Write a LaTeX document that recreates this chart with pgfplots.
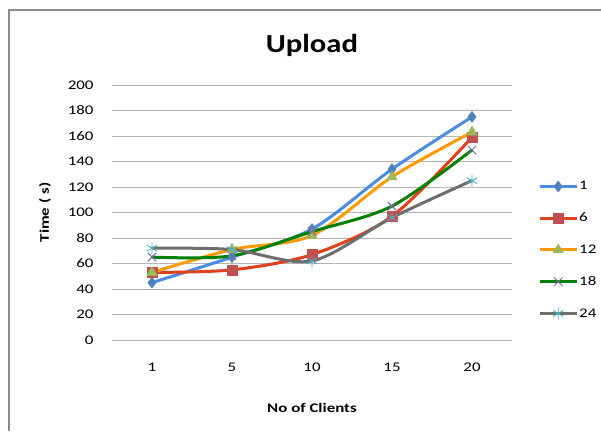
\documentclass[border=0pt]{standalone}
\usepackage{fontspec}
\setmainfont{Carlito}
\usepackage{graphicx}
\usepackage{pgfplots}
\pgfplotsset{compat=1.18}
\definecolor{l1}{RGB}{74,140,226}
\definecolor{m1}{RGB}{79,129,189}
\definecolor{l2}{RGB}{224,64,26}
\definecolor{m2}{RGB}{192,80,77}
\definecolor{l3}{RGB}{255,153,0}
\definecolor{m3}{RGB}{155,187,89}
\definecolor{l4}{RGB}{0,128,0}
\definecolor{m4}{RGB}{128,100,162}
\definecolor{l5}{RGB}{110,110,110}
\definecolor{m5}{RGB}{75,172,198}
\definecolor{gridc}{RGB}{180,180,180}
\newcommand{\nf}{\fontsize{13.2}{15}\selectfont}
\newcommand{\sx}[1]{\scalebox{1.28}[1]{#1}}
\begin{document}
\begin{tikzpicture}
\useasboundingbox (0,0) rectangle (601pt,431pt);
\fill[white] (0,0) rectangle (601pt,431pt);
\draw[black!45, line width=1.5pt] (9pt,0pt) -- (9pt,421pt) -- (601pt,421pt);
\begin{axis}[
  at={(112pt,91pt)}, anchor=south west,
  scale only axis, width=400pt, height=255pt,
  font=\nf,
  tick label style={font=\nf},
  xmin=-0.5, xmax=4.5, ymin=0, ymax=200,
  xtick={0,1,2,3,4}, xticklabels={\sx{1},\sx{5},\sx{10},\sx{15},\sx{20}},
  ytick={0,20,...,200},
  yticklabels={\sx{0},\sx{20},\sx{40},\sx{60},\sx{80},\sx{100},\sx{120},\sx{140},\sx{160},\sx{180},\sx{200}},
  extra x ticks={-0.5,0.5,1.5,2.5,3.5,4.5},
  extra x tick labels={},
  extra x tick style={major tick length=5pt, tick align=outside, tick style={gridc, line width=0.8pt}, grid=none},
  xtick style={draw=none}, ytick style={draw=none},
  axis line style={draw=none},
  ymajorgrids, grid style={gridc, line width=0.8pt},
  xticklabel style={anchor=base, yshift=-31pt},
  yticklabel style={anchor=east, xshift=-15pt},
  title={\scalebox{1.18}[1]{Upload}},
  title style={font=\fontsize{26}{28}\selectfont\bfseries, at={(0.5,1)}, anchor=base, yshift=26pt, inner sep=0pt},
  xlabel={\sx{No of Clients}},
  xlabel style={font=\nf\bfseries, at={(axis description cs:0.5,-0.2824)}, anchor=base},
  ylabel={\sx{Time ( s)}},
  every axis y label/.style={font=\nf\bfseries, at={(axis description cs:-0.1675,0.5)}, anchor=center, rotate=90},
  legend style={draw=none, fill=none, at={(1.065,0.353)}, anchor=west, inner sep=0pt, row sep=19.5pt, font=\nf, nodes={inner sep=1pt}},
  legend cell align=left,
  legend image code/.code={\draw[mark repeat=2,mark phase=2,#1] plot coordinates {(0pt,0pt) (18.5pt,0pt) (37pt,0pt)};},
  every axis plot/.append style={line width=3pt, smooth, tension=0.5},
]
\addplot[l1, mark=diamond*, mark size=5.5pt, mark options={fill=m1, draw=m1, line width=0.5pt}] coordinates {(0,45) (1,65) (2,87) (3,134) (4,175)};
\addlegendentry{\sx{1}}
\addplot[l2, mark=square*, mark size=5pt, mark options={fill=m2, draw=m2, line width=0.5pt}] coordinates {(0,53) (1,55) (2,67) (3,97) (4,159)};
\addlegendentry{\sx{6}}
\addplot[l3, mark=triangle*, mark size=6pt, mark options={fill=m3, draw=m3, line width=0.5pt}] coordinates {(0,53) (1,71) (2,82) (3,128) (4,163)};
\addlegendentry{\sx{12}}
\addplot[l4, mark=x, mark size=6pt, mark options={draw=m4, line width=0.9pt}] coordinates {(0,65) (1,66) (2,85) (3,105) (4,149)};
\addlegendentry{\sx{18}}
\addplot[l5, mark=asterisk, mark size=6pt, mark options={draw=m5, line width=0.9pt}] coordinates {(0,72) (1,71) (2,62) (3,96) (4,125)};
\addlegendentry{\sx{24}}
\end{axis}
\end{tikzpicture}
\end{document}
